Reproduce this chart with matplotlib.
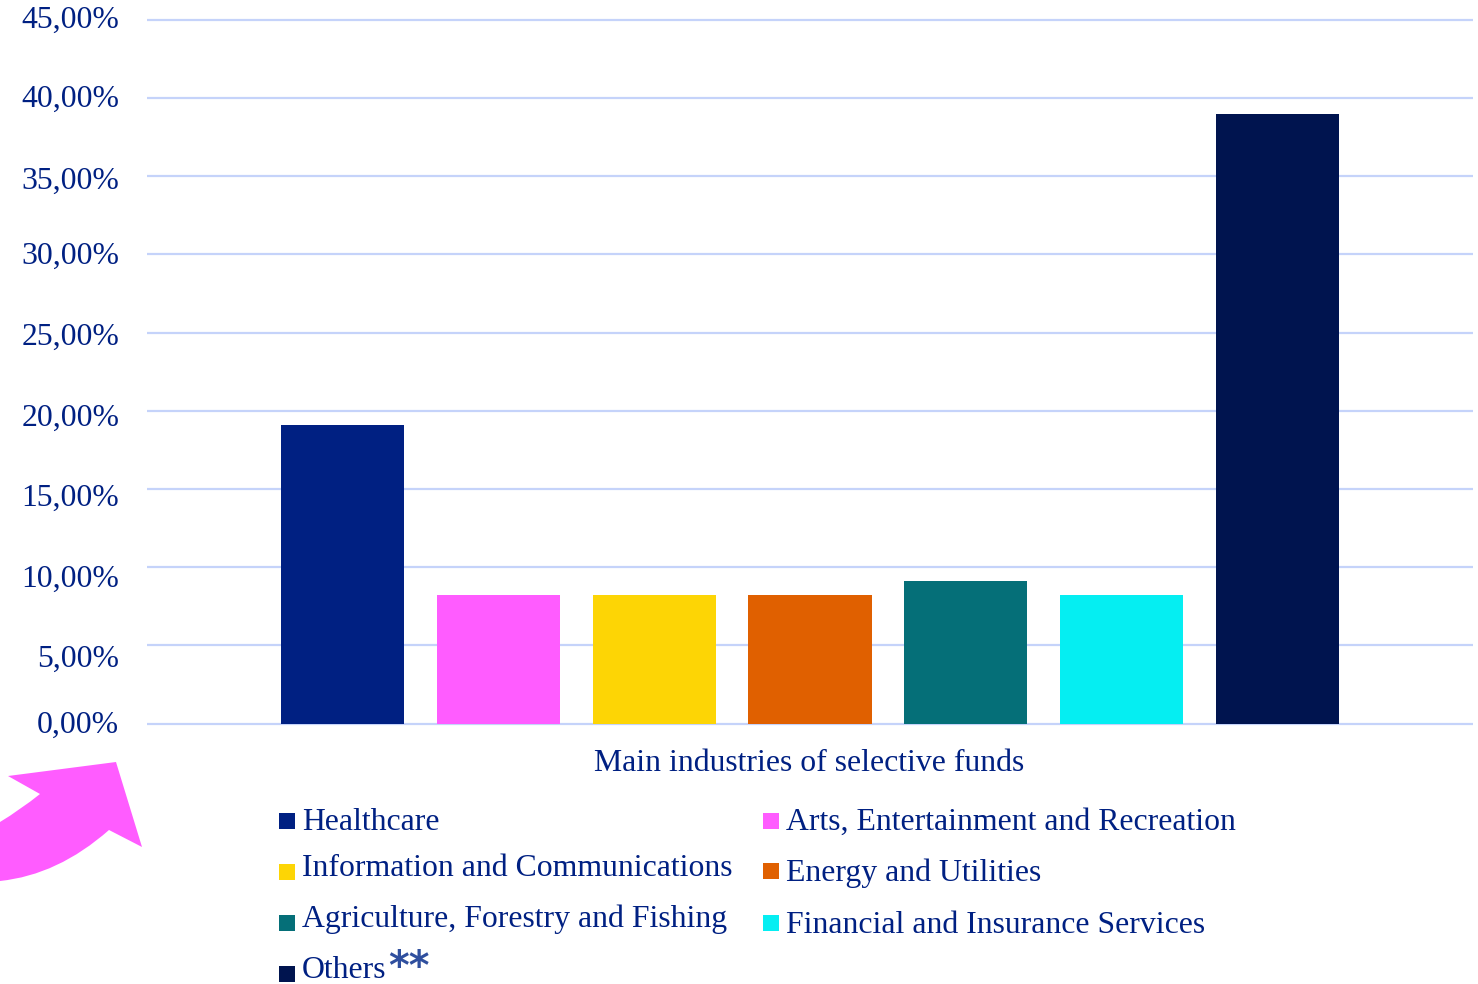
import matplotlib
matplotlib.use("Agg")
import matplotlib.pyplot as plt
from matplotlib.patches import PathPatch, Rectangle
from matplotlib.path import Path
from matplotlib.transforms import Affine2D

plt.rcParams['font.family'] = ['Liberation Serif', 'DejaVu Serif']

industries = ["Healthcare", "Arts, Entertainment and Recreation",
              "Information and Communications", "Energy and Utilities",
              "Agriculture, Forestry and Fishing", "Financial and Insurance Services",
              "Others"]
shares = [19.1, 8.2, 8.2, 8.2, 9.1, 8.2, 39.0]
colors = ["#002082", "#FF5CFF", "#FDD505", "#E06000", "#056F78", "#05EEF2", "#00144F"]
y_ticks = [0, 5, 10, 15, 20, 25, 30, 35, 40, 45]
y_labels = ["0,00%", "5,00%", "10,00%", "15,00%", "20,00%", "25,00%",
            "30,00%", "35,00%", "40,00%", "45,00%"]
axis_title = "Main industries of selective funds"

TEXT = "#002082"
FS = 22.9
W, H = 1478, 984
fig = plt.figure(figsize=(W / 100, H / 100), dpi=100)
ax = fig.add_axes([147 / W, 1 - 723.5 / H, (1473 - 147) / W, (723.5 - 20) / H])

ax.bar(range(len(shares)), shares, width=0.79, color=colors, zorder=3)
ax.set_xlim(3 - 4.255, 3 + 4.255)
ax.set_ylim(0, 45)
ax.set_yticks(y_ticks)
ax.set_yticklabels(y_labels, fontsize=FS, color=TEXT)
ax.set_xticks([])
ax.tick_params(axis='y', length=0, pad=20)
ax.grid(axis='y', color="#C5D3FA", linewidth=1.6, zorder=0, clip_on=False,
        solid_capstyle='butt')
ax.set_axisbelow(True)
for s in ax.spines.values():
    s.set_visible(False)

# the original labels drift slightly from their gridlines
drift = [-2, 10, 9, 6, 4, 1, -2, 1, -2, -3]
for lab, d in zip(ax.get_yticklabels(), drift):
    lab.set_transform(lab.get_transform() + Affine2D().translate(0, -d))


def px(x, y):
    return x / W, 1 - y / H


fig.text(*px(809, 771), axis_title, fontsize=FS, color=TEXT, ha='center', va='baseline')

# Legend, laid out by hand as its rows are uneven in the original
legend_rows = [(279, 302, 813, 830), (763, 786, 813, 830),
               (279, 302, 864, 876), (763, 786, 863, 881),
               (279, 302, 915, 927), (763, 786, 915, 933),
               (279, 302, 966, 978)]
for name, c, (sx, tx, sy, by) in zip(industries, colors, legend_rows):
    fig.add_artist(Rectangle(px(sx, sy + 16), 16 / W, 16 / H, color=c, lw=0,
                             transform=fig.transFigure))
    fig.text(*px(tx, by), name, fontsize=FS, color=TEXT, ha='left', va='baseline')
fig.text(*px(388, 979), "**", fontsize=28.5, color="#2F4F9E", ha='left', va='baseline',
         family=['DejaVu Sans'], fontweight='bold')

# Pink decorative arrow
verts = [(8, 776), (116, 762), (142, 847), (109, 830), (58, 875), (0, 881),
         (0, 822), (20, 810), (40, 794), (8, 776)]
codes = [Path.MOVETO, Path.LINETO, Path.LINETO, Path.LINETO, Path.CURVE3, Path.CURVE3,
         Path.LINETO, Path.CURVE3, Path.CURVE3, Path.CLOSEPOLY]
fig.add_artist(PathPatch(Path([px(*v) for v in verts], codes), facecolor="#FF5CFF", lw=0,
                         transform=fig.transFigure))

fig.savefig("out.png", dpi=100)
